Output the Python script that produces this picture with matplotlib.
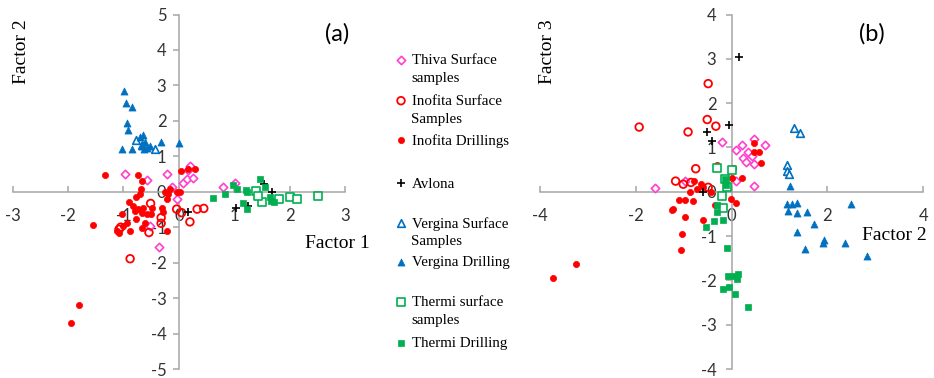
import matplotlib
matplotlib.use("Agg")
import matplotlib.pyplot as plt
import numpy as np

plt.rcParams["axes.unicode_minus"] = False

# ---------------- data : panel (a) Factor 1 vs Factor 2 ----------------
a_thiva_x = [-0.97, -0.58, -0.22, -0.13, -0.04, 0.07, 0.15, 0.20, 0.17, 0.26, 0.80, 1.01, -0.52, -0.36]
a_thiva_y = [0.49, 0.32, 0.49, 0.12, -0.21, 0.26, 0.35, 0.73, 0.62, 0.40, 0.12, 0.26, -0.96, -1.57]

a_inos_x = [-0.51, -0.32, -0.32, -0.54, -1.05, -1.08, -0.88, -0.04, 0.05, 0.20, 0.33, 0.45]
a_inos_y = [-0.33, -0.73, -0.89, -1.15, -1.00, -1.06, -1.89, -0.49, -0.59, -0.85, -0.49, -0.47]

a_inod_x = [-1.34, -0.73, -0.67, -0.68, -0.70, -0.77, -0.16, -0.19, -0.25, -0.22, -0.31, -0.28,
            0.04, 0.17, 0.29, -0.04, 0.02, -0.90, -0.82, -0.79, -0.67, -0.58, -0.51, -0.64,
            -0.73, -1.03, -1.00, -0.88, -0.94, -0.77, -0.67, -0.61, -1.11, -1.08, -0.21,
            -1.55, -0.49, -1.80, -1.95]
a_inod_y = [0.47, 0.47, 0.30, 0.07, -0.07, -0.16, 0.07, -0.07, -0.02, -0.21, -0.45, -0.57,
            0.59, 0.63, 0.63, 0.00, 0.00, -0.30, -0.40, -0.54, -0.59, -0.63, -0.63, -0.45,
            -0.50, -0.63, -0.96, -1.10, -0.87, -0.77, -1.01, -0.87, -1.10, -1.15, -1.10,
            -0.94, -0.45, -3.19, -3.70]

a_avl_x = [0.16, 1.04, 1.25, 1.54, 1.68]
a_avl_y = [-0.56, -0.46, -0.39, 0.23, 0.00]

a_vers_x = [-0.78, -0.66, -0.43]
a_vers_y = [1.45, 1.31, 1.22]

a_verd_x = [-0.99, -0.96, -0.84, -0.93, -0.91, -1.03, -0.85, -0.70, -0.64, -0.61, -0.67, -0.52,
            -0.32, 0.01, -0.63, -0.57]
a_verd_y = [2.84, 2.51, 2.40, 1.95, 1.73, 1.20, 1.20, 1.54, 1.59, 1.39, 1.29, 1.29,
            1.41, 1.37, 1.22, 1.24]

a_thes_x = [1.39, 1.51, 1.81, 2.00, 2.14, 2.51, 1.43]
a_thes_y = [0.02, -0.29, -0.20, -0.16, -0.20, -0.12, -0.12]

a_thed_x = [0.62, 0.83, 0.98, 1.05, 1.22, 1.23, 1.15, 1.23, 1.46, 1.55, 1.64, 1.67, 1.71]
a_thed_y = [-0.18, -0.05, 0.18, 0.09, 0.04, -0.02, -0.32, -0.49, 0.37, 0.14, -0.15, -0.26, -0.30]

# ---------------- data : panel (b) Factor 2 vs Factor 3 ----------------
b_thiva_x = [-1.60, -0.97, -0.20, 0.10, 0.22, 0.24, 0.35, 0.42, 0.29, 0.47, 0.70, 0.46, 0.47, 0.09]
b_thiva_y = [0.08, 0.25, 1.13, 0.95, 1.06, 0.77, 0.89, 0.81, 0.68, 1.19, 1.05, 0.62, 0.12, 0.25]

b_inos_x = [-0.49, -1.93, -0.91, -0.51, -0.33, -0.75, -1.17, -1.01, -0.85, -0.49]
b_inos_y = [2.44, 1.46, 1.35, 1.63, 1.48, 0.52, 0.24, 0.17, 0.21, 0.10]

b_inod_x = [-3.73, -3.24, -1.04, -1.05, -0.97, -1.24, -1.22, -1.10, -0.97, -0.80, -0.87, -0.78,
            -0.65, -0.73, -0.59, -0.59, -0.35, -0.30, 0.03, 0.01, -0.02, 0.10, 0.21, 0.47,
            0.58, 0.46, 0.61, -0.44]
b_inod_y = [-1.94, -1.64, -0.95, -1.32, -0.57, -0.42, -0.38, -0.18, -0.18, -0.21, -0.01, 0.25,
            0.18, 0.06, 0.11, -0.63, -0.31, 0.61, 0.53, 0.31, -0.16, -0.25, 0.30, 1.10,
            0.89, 0.90, 0.66, -0.01]

b_avl_x = [0.15, -0.05, -0.52, -0.42, -0.59]
b_avl_y = [3.04, 1.51, 1.35, 1.15, 0.00]

b_vers_x = [1.30, 1.43, 1.15, 1.16, 1.20]
b_vers_y = [1.43, 1.32, 0.61, 0.47, 0.40]

b_verd_x = [1.22, 1.15, 1.25, 1.36, 1.17, 1.36, 1.57, 1.72, 1.36, 1.53, 1.91, 1.93, 2.37, 2.49, 2.83]
b_verd_y = [0.14, -0.27, -0.27, -0.25, -0.44, -0.48, -0.46, -0.72, -0.91, -1.29, -1.16, -1.10,
            -1.16, -0.27, -1.44]

b_thes_x = [-0.31, 0.00, -0.14, -0.10, -0.21, -0.19]
b_thes_y = [0.53, 0.50, 0.29, 0.10, -0.09, -0.37]

b_thed_x = [-0.14, -0.12, -0.31, -0.30, -0.37, -0.19, -0.54, -0.10, -0.07, 0.04, 0.14, 0.12,
            -0.19, -0.06, 0.07, 0.35]
b_thed_y = [0.29, 0.15, -0.31, -0.46, -0.65, -0.63, -0.80, -1.26, -1.91, -1.90, -1.85, -1.96,
            -2.20, -2.15, -2.30, -2.61]

legend_labels = ["Thiva Surface\nsamples", "Inofita Surface\nSamples", "Inofita Drillings",
                 "Avlona", "Vergina Surface\nSamples", "Vergina Drilling",
                 "Thermi surface\nsamples", "Thermi Drilling"]

# ---------------- styles ----------------
MAG, RED, BLUE, GREEN = "#FF3FD0", "#FF0000", "#0070C0", "#00B050"
styles = [
    dict(marker="D", s=18, facecolors="white", edgecolors=MAG, linewidths=1.2),
    dict(marker="o", s=30, facecolors="none", edgecolors=RED, linewidths=1.3),
    dict(marker="o", s=20, facecolors=RED, edgecolors=RED, linewidths=0.5),
    dict(marker="+", s=28, c="black", linewidths=1.2),
    dict(marker="^", s=30, facecolors="white", edgecolors=BLUE, linewidths=1.2),
    dict(marker="^", s=26, facecolors=BLUE, edgecolors=BLUE, linewidths=0.5),
    dict(marker="s", s=26, facecolors="white", edgecolors=GREEN, linewidths=1.2),
    dict(marker="s", s=22, facecolors=GREEN, edgecolors=GREEN, linewidths=0.5),
]

TICKFONT = "Lato"
SERIF = "Liberation Serif"
SPINE = "#A6A6A6"

fig = plt.figure(figsize=(9.34, 3.78), dpi=100)


def setup(ax, xlim, ylim, xticks, yticks, ypad):
    ax.set_xlim(*xlim)
    ax.set_ylim(*ylim)
    for s in ["top", "right"]:
        ax.spines[s].set_visible(False)
    ax.spines["left"].set_position(("data", 0))
    ax.spines["bottom"].set_position(("data", 0))
    for s in ["left", "bottom"]:
        ax.spines[s].set_color(SPINE)
        ax.spines[s].set_linewidth(1.1)
    ax.set_xticks(xticks)
    ax.set_yticks(yticks)
    ax.tick_params(axis="x", direction="in", length=4, color=SPINE, width=1.1, pad=12,
                   labelsize=12, labelcolor="#333333")
    ax.tick_params(axis="y", direction="out", length=4, color=SPINE, width=1.1, pad=ypad,
                   labelsize=12, labelcolor="#333333")
    for lab in ax.get_xticklabels() + ax.get_yticklabels():
        lab.set_fontfamily(TICKFONT)
    ax.patch.set_alpha(0)


def draw(ax, xs, ys):
    for (x, y), st in zip(zip(xs, ys), styles):
        ax.scatter(x, y, clip_on=False, zorder=3, **st)


# panel (a)
axa = fig.add_axes([12.7 / 934, 1 - 369 / 378, (345 - 12.7) / 934, (369 - 14.5) / 378])
setup(axa, (-3, 3), (-5, 5), range(-3, 4), range(-5, 6), 5)
draw(axa,
     [a_thiva_x, a_inos_x, a_inod_x, a_avl_x, a_vers_x, a_verd_x, a_thes_x, a_thed_x],
     [a_thiva_y, a_inos_y, a_inod_y, a_avl_y, a_vers_y, a_verd_y, a_thes_y, a_thed_y])

# panel (b)
axb = fig.add_axes([540 / 934, 1 - 369 / 378, 383.3 / 934, (369 - 14.5) / 378])
setup(axb, (-4, 4), (-4, 4), range(-4, 5, 2), range(-4, 5), 7)
draw(axb,
     [b_thiva_x, b_inos_x, b_inod_x, b_avl_x, b_vers_x, b_verd_x, b_thes_x, b_thed_x],
     [b_thiva_y, b_inos_y, b_inod_y, b_avl_y, b_vers_y, b_verd_y, b_thes_y, b_thed_y])

# overlay in pixel coordinates for labels and legend
ov = fig.add_axes([0, 0, 1, 1])
ov.set_xlim(0, 934)
ov.set_ylim(378, 0)
ov.axis("off")
ov.patch.set_alpha(0)

ov.text(21.5, 52, "Factor 2", rotation=90, ha="center", va="center", fontsize=14, family=SERIF)
ov.text(305, 243, "Factor 1", ha="left", va="center", fontsize=14, family=SERIF)
ov.text(548, 52, "Factor 3", rotation=90, ha="center", va="center", fontsize=14, family=SERIF)
ov.text(862, 236, "Factor 2", ha="left", va="center", fontsize=14, family=SERIF)
ov.text(337, 34, "(a)", ha="center", va="center", fontsize=17, family=TICKFONT)
ov.text(872, 34, "(b)", ha="center", va="center", fontsize=17, family=TICKFONT)

leg_y = [60, 100.7, 140, 183, 222.7, 261.7, 301.7, 343]
for yy, lab, st in zip(leg_y, legend_labels, styles):
    ov.scatter([401], [yy], **st)
    for i, line in enumerate(lab.split("\n")):
        ov.text(411.5, yy + 1 + i * 17.5, line, ha="left", va="center", fontsize=10.8,
                family=SERIF)

fig.savefig("out.png", dpi=100)
